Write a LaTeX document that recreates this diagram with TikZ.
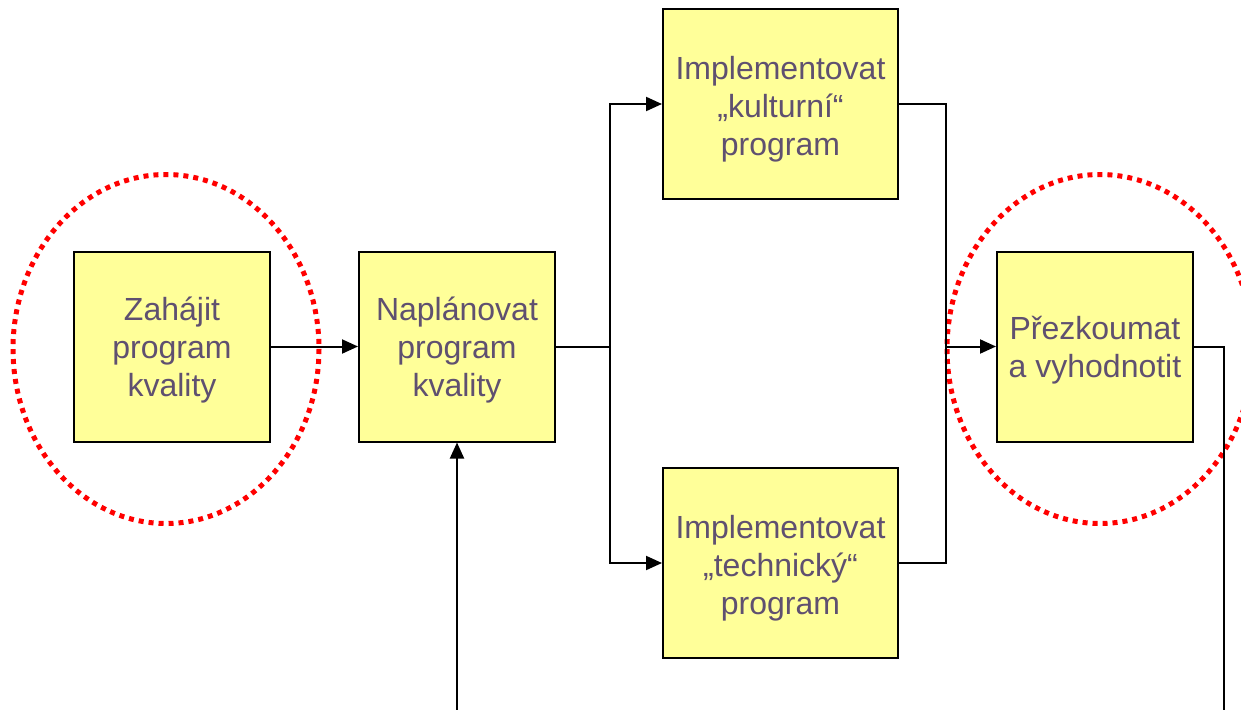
\documentclass[tikz,border=0pt]{standalone}
\usepackage{fontspec}
\setmainfont{Liberation Sans}
\usetikzlibrary{arrows.meta,shapes.geometric}
\definecolor{boxfill}{HTML}{FFFF99}
\definecolor{txt}{HTML}{5F5070}
\begin{document}
\begin{tikzpicture}[x=1pt,y=-1pt,
  box/.style={draw=black,line width=2pt,fill=boxfill,minimum width=196pt,minimum height=190pt,inner sep=0pt},
  wide/.style={minimum width=235pt},
  lbl/.style={align=center,text=txt,inner sep=0pt,font=\fontsize{32}{38}\selectfont},
  conn/.style={line width=2pt,draw=black},
  arr/.style={conn,-{Triangle[length=16pt,width=14pt]}},
  ring/.style={draw=red,line width=5pt,dash pattern=on 5pt off 5pt}]
\useasboundingbox (0,0) rectangle (1241,709);
\node[box] (zah) at (172,346.5) {};
\node[box] (nap) at (457,346.5) {};
\node[box,wide] (kul) at (780.5,104) {};
\node[box,wide] (tech) at (780.5,563) {};
\node[box] (pre) at (1095,346.5) {};
\node[lbl] (zahT) at ([yshift=-4pt]zah.center) {Zahájit\\program\\kvality};
\node[lbl] (napT) at ([yshift=-4pt]nap.center) {Naplánovat\\program\\kvality};
\node[lbl] (kulT) at ([yshift=-5pt]kul.center) {Implementovat\\„kulturní“\\program};
\node[lbl] (techT) at ([yshift=-5pt]tech.center) {Implementovat\\„technický“\\program};
\node[lbl] (preT) at ([yshift=-4pt]pre.center) {Přezkoumat\\a vyhodnotit};
\draw[ring] (166,349) ellipse [x radius=153, y radius=174.5];
\draw[ring] (1100,349) ellipse [x radius=153, y radius=174.5];
\path (nap.east) -- ++(54,0) coordinate (split);
\path (pre.west) -- ++(-50,0) coordinate (join);
\coordinate (bl) at (457,712);
\coordinate (br) at (1224,712);
\draw[arr] (zah.east) -- (nap.west);
\draw[conn] (nap.east) -- (split);
\draw[arr] (split) |- (kul.west);
\draw[arr] (split) |- (tech.west);
\draw[conn] (kul.east) -| (join);
\draw[conn] (tech.east) -| (join);
\draw[arr] (join) -- (pre.west);
\draw[conn] (pre.east) -| (br);
\draw[arr] (bl) -- (nap.south);
\end{tikzpicture}
\end{document}
